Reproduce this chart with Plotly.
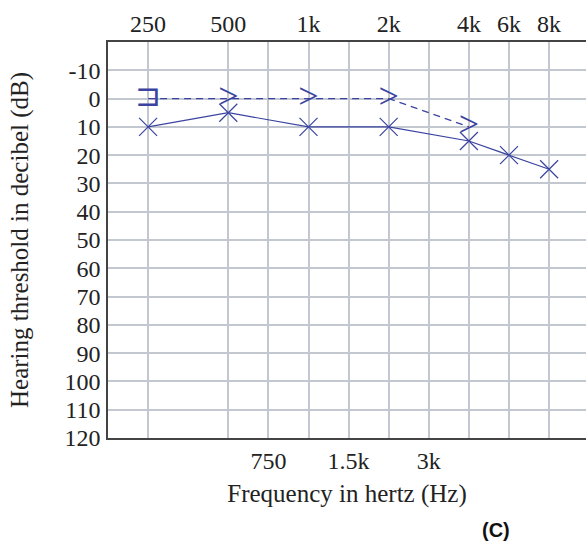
import plotly.graph_objects as go

# Audiogram x positions (half-octave frame: 250 ... 8k)
freq_pos = {250: 1, 500: 3, 750: 4, 1000: 5, 1500: 6, 2000: 7, 3000: 8, 4000: 9, 6000: 10, 8000: 11}

top_tick_freqs = [250, 500, 1000, 2000, 4000, 6000, 8000]
top_tick_labels = ["250", "500", "1k", "2k", "4k", "6k", "8k"]
bottom_tick_freqs = [750, 1500, 3000]
bottom_tick_labels = ["750", "1.5k", "3k"]
y_ticks = [-10, 0, 10, 20, 30, 40, 50, 60, 70, 80, 90, 100, 110, 120]
y_tick_labels = ["-10", "0", "10", "20", "30", "40", "50", "60", "70", "80", "90", "100", "110", "120"]

# Air conduction (solid, X markers)
air_freqs = [250, 500, 1000, 2000, 4000, 6000, 8000]
air_db = [10, 5, 10, 10, 15, 20, 25]

# Bone conduction (dashed, bracket / chevron symbols)
bone_freqs = [250, 500, 1000, 2000, 4000]
bone_db = [0, 0, 0, 0, 10]

BLUE = "#3a44a0"
GRID = "#c3c7cf"
SERIF = "Liberation Serif, Times New Roman, serif"
FS = 24
FT = 25

ax = [freq_pos[f] for f in air_freqs]
bx = [freq_pos[f] for f in bone_freqs]

fig = go.Figure()
fig.add_trace(go.Scatter(
    x=bx, y=bone_db, mode="lines",
    line=dict(color=BLUE, width=1.3, dash="7px,5px"),
    hoverinfo="skip", showlegend=False,
))
# masked bone-conduction bracket at first point
fig.add_trace(go.Scatter(
    x=bx[:1], y=bone_db[:1], mode="text", text=["⊐"],
    textposition="middle center",
    textfont=dict(color=BLUE, size=31, family="DejaVu Sans"),
    showlegend=False, xaxis="x2",
))
# unmasked bone-conduction chevrons
fig.add_trace(go.Scatter(
    x=bx[1:], y=bone_db[1:], mode="text", text=[">"] * (len(bx) - 1),
    textposition="middle center",
    textfont=dict(color=BLUE, size=36, family="Liberation Serif"),
    showlegend=False,
))
fig.add_trace(go.Scatter(
    x=ax, y=air_db, mode="lines+markers",
    line=dict(color=BLUE, width=1.2),
    marker=dict(symbol="x-thin-open", size=18, color=BLUE, line=dict(color=BLUE, width=1.2)),
    showlegend=False,
))

x_range = [0, 11.92]
grid_vals = sorted(freq_pos.values())
grid_text = []
for v in grid_vals:
    f = [k for k, p in freq_pos.items() if p == v][0]
    grid_text.append(bottom_tick_labels[bottom_tick_freqs.index(f)] if f in bottom_tick_freqs else "")

fig.update_layout(
    width=586, height=544,
    margin=dict(l=108, r=0, t=42, b=106),
    paper_bgcolor="white", plot_bgcolor="white",
    font=dict(family=SERIF, size=FS, color="#222"),
    xaxis=dict(
        range=x_range, tickmode="array", tickvals=grid_vals, ticktext=grid_text,
        showgrid=True, gridcolor=GRID, gridwidth=2, zeroline=False,
        showline=True, linecolor="#444", linewidth=1.5, mirror=True,
        ticks="", ticklabelstandoff=0, automargin=False,
        tickfont=dict(family=SERIF, size=FS, color="#222"),
        title=dict(text="Frequency in hertz (Hz)", standoff=12,
                   font=dict(family=SERIF, size=FT, color="#222")),
    ),
    xaxis2=dict(
        range=x_range, overlaying="x", side="top", tickmode="array",
        tickvals=[freq_pos[f] for f in top_tick_freqs], ticktext=top_tick_labels,
        showgrid=False, zeroline=False, showline=False, ticks="", automargin=False,
        ticklabelstandoff=4,
        tickfont=dict(family=SERIF, size=FS, color="#222"),
    ),
    yaxis=dict(
        range=[120, -20], tickmode="array", tickvals=y_ticks, ticktext=y_tick_labels,
        showgrid=True, gridcolor=GRID, gridwidth=2, zeroline=False,
        showline=True, linecolor="#444", linewidth=1.5, mirror=True,
        ticks="", ticklabelstandoff=1, automargin=False,
        tickfont=dict(family=SERIF, size=FS, color="#222"),
        title=dict(text="Hearing threshold in decibel (dB)", standoff=29,
                   font=dict(family=SERIF, size=FT, color="#222")),
    ),
    annotations=[dict(
        text="<b>(C)</b>", xref="paper", yref="paper", x=0.812, y=-0.232,
        xanchor="center", yanchor="middle", showarrow=False,
        font=dict(family="Liberation Sans, Arial, sans-serif", size=20, color="#111"),
    )],
)

fig.write_html(
    "out.html",
    config={"displayModeBar": False},
    post_script="document.body.style.margin='0';document.body.style.overflow='hidden';",
)
